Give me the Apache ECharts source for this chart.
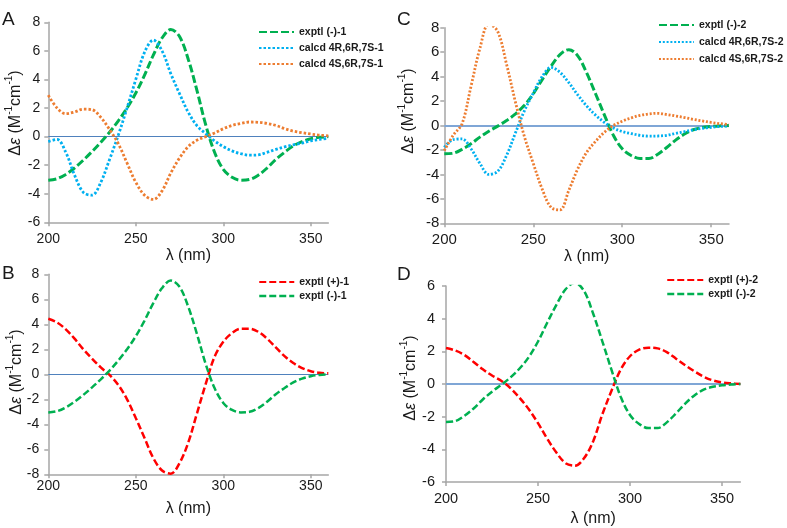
<!DOCTYPE html>
<html><head><meta charset="utf-8">
<script src="https://cdn.jsdelivr.net/npm/echarts@6/dist/echarts.min.js"></script>
<style>html,body{margin:0;padding:0;background:#fff}#c{width:787px;height:528px}</style>
</head><body><div id="c"></div>
<script>
// wavelengths (nm)
const wl = [200,205,210,215,220,225,230,235,240,245,250,255,260,265,270,275,280,285,290,295,300,305,310,315,320,325,330,335,340,345,350,355,360];
// Panel A / B : compound 1
const exptlMinus1 = [-3.05,-2.95,-2.65,-2.2,-1.65,-1.05,-0.4,0.3,1.1,2.0,3.05,4.3,5.7,6.9,7.5,7.0,5.4,3.2,0.8,-1.1,-2.3,-2.85,-3.05,-3.0,-2.7,-2.2,-1.6,-1.1,-0.65,-0.35,-0.15,-0.05,0.0];
const calcd4R1 = [-0.35,-0.2,-1.1,-2.7,-3.9,-4.1,-3.2,-1.6,0.1,2.0,4.0,5.9,6.75,6.0,4.4,3.0,1.7,0.75,0.2,-0.3,-0.7,-1.0,-1.2,-1.3,-1.28,-1.1,-0.9,-0.72,-0.58,-0.45,-0.3,-0.2,-0.12];
const calcd4S1 = [2.9,2.0,1.6,1.72,1.92,1.88,1.35,0.5,-0.5,-1.85,-3.2,-4.1,-4.4,-3.8,-2.55,-1.5,-0.7,-0.25,0.0,0.25,0.55,0.78,0.92,1.02,1.0,0.92,0.78,0.56,0.38,0.27,0.18,0.1,0.05];
const exptlPlus1 = [4.44,4.15,3.6,2.85,2.0,1.25,0.55,-0.05,-0.86,-2.0,-3.5,-5.1,-6.7,-7.7,-7.95,-7.1,-5.45,-3.1,-0.75,1.4,2.6,3.3,3.65,3.65,3.4,2.85,2.15,1.45,0.9,0.5,0.25,0.12,0.08];
// Panel C / D : compound 2
const exptlMinus2 = [-2.32,-2.27,-1.95,-1.5,-0.95,-0.47,-0.05,0.4,0.95,1.65,2.6,3.75,4.85,5.8,6.2,5.7,4.3,2.6,0.85,-0.8,-1.9,-2.45,-2.7,-2.7,-2.35,-1.8,-1.2,-0.7,-0.35,-0.17,-0.08,-0.03,0.0];
const calcd4R2 = [-1.78,-1.15,-1.1,-1.9,-3.1,-4.0,-3.75,-2.45,-0.6,1.2,2.65,4.0,4.75,4.35,3.5,2.5,1.6,0.85,0.25,-0.2,-0.5,-0.66,-0.8,-0.87,-0.86,-0.8,-0.65,-0.5,-0.35,-0.24,-0.15,-0.08,-0.04];
const calcd4S2 = [-2.05,-0.8,0.15,3.2,6.3,8.3,7.7,5.0,1.9,-0.9,-3.1,-5.2,-6.7,-6.9,-5.3,-3.55,-2.2,-1.3,-0.55,0.0,0.35,0.62,0.83,0.95,1.0,0.9,0.78,0.65,0.5,0.37,0.25,0.15,0.08];
const exptlPlus2 = [2.2,2.05,1.78,1.35,0.9,0.52,0.2,-0.25,-0.85,-1.55,-2.4,-3.35,-4.2,-4.85,-5.0,-4.55,-3.5,-1.85,-0.4,0.9,1.7,2.1,2.22,2.18,1.95,1.55,1.15,0.78,0.45,0.22,0.1,0.04,0.0];
// tick labels
const xTicks = [200,250,300,350];
const yTicksA = [-6,-4,-2,0,2,4,6,8];
const yTicksB = [-8,-6,-4,-2,0,2,4,6,8];
const yTicksC = [-8,-6,-4,-2,0,2,4,6,8];
const yTicksD = [-6,-4,-2,0,2,4,6];
const panelLetters = ['A','B','C','D'];
const names = {
  A: ['exptl (-)-1','calcd 4R,6R,7S-1','calcd 4S,6R,7S-1'],
  B: ['exptl (+)-1','exptl (-)-1'],
  C: ['exptl (-)-2','calcd 4R,6R,7S-2','calcd 4S,6R,7S-2'],
  D: ['exptl (+)-2','exptl (-)-2']
};

const FONT = 'Liberation Sans, Arial, sans-serif';
const GREEN = '#00b050', BLUE = '#00b0f0', ORANGE = '#ed7d31', RED = '#ff0000';
const AXC = '#a6a6a6', TXT = '#1a1a1a';

const grids = [
  {left:48.3, top:22.3, width:280, height:200},     // A
  {left:48.3, top:274.3, width:280, height:200},    // B
  {left:444.3, top:27.7, width:284.7, height:195.6},// C
  {left:446, top:286, width:294.4, height:197.3}    // D
];
const yRange = [[-6,8],[-8,8],[-8,8],[-6,6]];
const yTickArr = [yTicksA,yTicksB,yTicksC,yTicksD];
const xLabelMargin = [10,5,9,9];
const yLabelMargin = [8,9,5,11];
const fsz = [14,14,15,14.5];
const nameGap = [24,26,22,29];

function pts(v){ return wl.map((x,i)=>[x,v[i]]); }
function ser(name, vals, g, color, dash, width, zero, zw, zc){
  const s = {type:'line', name, xAxisIndex:g, yAxisIndex:g, data:pts(vals), symbol:'none', smooth:0.35,
    lineStyle:{color, type:dash, width, cap:'butt'}, itemStyle:{color}, emphasis:{disabled:true}, z:3};
  if(zero){ s.markLine = {silent:true, symbol:'none', label:{show:false}, z:1,
    lineStyle:{color:zc, width:zw, type:'solid'}, data:[{yAxis:0}]}; }
  return s;
}
const DOT_A = [2.5,2], DOT_C = [2,1.8], DASH_L = [8,3], DASH_S = [7,3];
const series = [
  ser(names.A[0], exptlMinus1, 0, GREEN, DASH_L, 3, true, 1, '#4f81bd'),
  ser(names.A[1], calcd4R1, 0, BLUE, DOT_A, 2.8),
  ser(names.A[2], calcd4S1, 0, ORANGE, DOT_A, 2.8),
  ser(names.B[0], exptlPlus1, 1, RED, DASH_S, 2.5, true, 1, '#4f81bd'),
  ser(names.B[1], exptlMinus1, 1, GREEN, DASH_S, 2.5),
  ser(names.C[0], exptlMinus2, 2, GREEN, DASH_L, 3, true, 2, '#7fa6d6'),
  ser(names.C[1], calcd4R2, 2, BLUE, DOT_C, 2.8),
  ser(names.C[2], calcd4S2, 2, ORANGE, DOT_C, 2.8),
  ser(names.D[0], exptlPlus2, 3, RED, DASH_S, 2.5, true, 2, '#7fa6d6'),
  ser(names.D[1], exptlMinus2, 3, GREEN, DASH_S, 2.5)
];

const xAxis = grids.map((g,i)=>({type:'value', gridIndex:i, min:200, max:360, interval:50,
  name:'λ (nm)', nameLocation:'middle', nameGap:nameGap[i],
  nameTextStyle:{fontFamily:FONT, fontSize:16, color:TXT},
  axisLine:{show:true, onZero:false, lineStyle:{color:AXC, width:1.5}},
  axisTick:{show:true, length:4, lineStyle:{color:AXC, width:1.5}, customValues:xTicks},
  axisLabel:{fontFamily:FONT, fontSize:fsz[i], color:TXT, margin:xLabelMargin[i], customValues:xTicks},
  splitLine:{show:false}}));
const yAxis = grids.map((g,i)=>({type:'value', gridIndex:i, min:yRange[i][0], max:yRange[i][1], interval:2,
  axisLine:{show:true, onZero:false, lineStyle:{color:AXC, width:1.5}},
  axisTick:{show:true, length:4, lineStyle:{color:AXC, width:1.5}, customValues:yTickArr[i]},
  axisLabel:{fontFamily:FONT, fontSize:fsz[i], color:TXT, margin:yLabelMargin[i], customValues:yTickArr[i]},
  splitLine:{show:false}}));

function leg(items, left, top, iw, gap){
  return {orient:'vertical', left, top, padding:0, itemWidth:iw, itemHeight:12, itemGap:gap, itemStyle:{opacity:0},
    textStyle:{fontFamily:FONT, fontSize:10.5, lineHeight:12, fontWeight:'bold', color:TXT}, data:items, selectedMode:false};
}
const legend = [
  leg(names.A.map(n=>({name:n})), 258, 26, 35, 4),
  leg([{name:names.B[0]},{name:names.B[1], lineStyle:{width:2.5, type:DASH_S}}], 258, 276, 35, 2),
  leg(names.C.map(n=>({name:n})), 658, 19, 35, 5),
  leg([{name:names.D[0]},{name:names.D[1], lineStyle:{width:2.5, type:DASH_S}}], 666, 274, 36, 2)
];

function ylab(x,y){
  return {type:'text', x, y, rotation:Math.PI/2, silent:true, style:{
    text:'{n|Δ}{e|ε}{n| (M}{s|-1}{n|cm}{s|-1}{n|)}', align:'center', verticalAlign:'middle',
    rich:{n:{fontFamily:FONT, fontSize:16, fill:TXT, lineHeight:20, verticalAlign:'bottom'},
          e:{fontFamily:FONT, fontSize:16, fontStyle:'italic', fill:TXT, lineHeight:20, verticalAlign:'bottom'},
          s:{fontFamily:FONT, fontSize:10, fill:TXT, lineHeight:20, verticalAlign:'top'}}}};
}
const letterPos = [[2,10],[2,264],[397,10],[397,265]];
const graphic = [
  ylab(14,113), ylab(15,372), ylab(407,111), ylab(409,378),
  ...panelLetters.map((t,i)=>({type:'text', x:letterPos[i][0], y:letterPos[i][1], silent:true,
     style:{text:t, fontFamily:FONT, fontSize:19, fill:TXT}}))
];

const chart = echarts.init(document.getElementById('c'), null, {renderer:'canvas'});
chart.setOption({animation:false, backgroundColor:'#fff', grid:grids, xAxis, yAxis, legend, series, graphic});
</script></body></html>
